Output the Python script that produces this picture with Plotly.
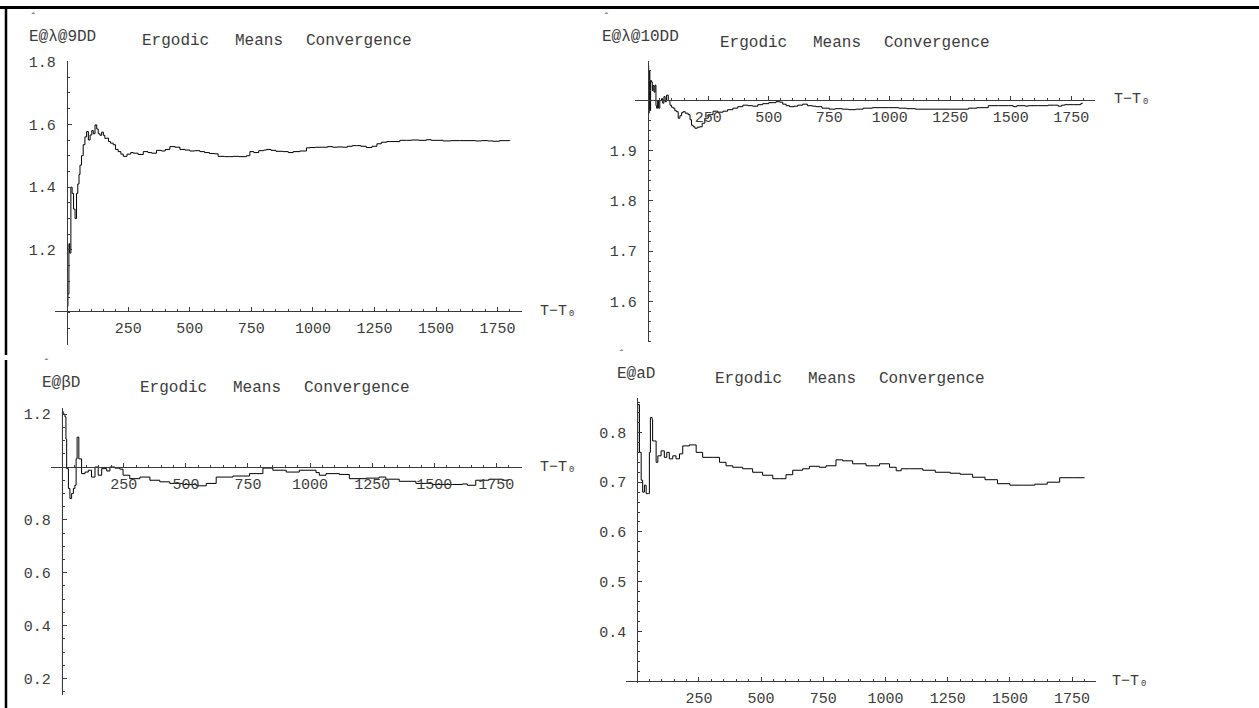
import plotly.graph_objects as go
import numpy as np

W, H = 1259, 708

# ---------------- data ----------------
lam9_t = [1, 5, 9, 12, 17, 22, 28, 34, 40, 45, 50, 54, 60, 67, 74, 81, 88, 95, 102, 108,
          115, 122, 128, 135, 142, 149, 155, 162, 170, 178, 189, 198, 209, 220, 230, 245,
          260, 270, 290, 311, 330, 345, 365, 385, 400, 419, 440, 460, 480, 500, 520, 541,
          560, 580, 600, 615, 640, 660, 676, 700, 730, 744, 760, 780, 800, 812, 830, 850,
          879, 900, 920, 947, 974, 988, 1010, 1040, 1060, 1080, 1100, 1120, 1140, 1160,
          1177, 1195, 1217, 1240, 1260, 1278, 1300, 1353, 1380, 1400, 1430, 1461, 1480,
          1500, 1528, 1560, 1596, 1630, 1660, 1684, 1710, 1731, 1758, 1780, 1800]
lam9_v = [1.02, 1.06, 1.22, 1.19, 1.40, 1.38, 1.33, 1.30, 1.38, 1.41, 1.44, 1.47, 1.50,
          1.535, 1.56, 1.577, 1.55, 1.566, 1.58, 1.57, 1.598, 1.585, 1.57, 1.565, 1.575,
          1.565, 1.555, 1.556, 1.545, 1.54, 1.535, 1.52, 1.513, 1.505, 1.498, 1.505, 1.51,
          1.508, 1.504, 1.513, 1.51, 1.508, 1.517, 1.515, 1.52, 1.529, 1.527, 1.52, 1.518,
          1.515, 1.516, 1.513, 1.51, 1.507, 1.506, 1.498, 1.497, 1.497, 1.498, 1.497, 1.50,
          1.513, 1.51, 1.516, 1.518, 1.52, 1.517, 1.514, 1.513, 1.51, 1.513, 1.515, 1.525,
          1.526, 1.527, 1.527, 1.529, 1.527, 1.528, 1.527, 1.530, 1.532, 1.532, 1.530,
          1.526, 1.530, 1.538, 1.543, 1.545, 1.549, 1.549, 1.550, 1.549, 1.551, 1.549,
          1.549, 1.547, 1.548, 1.548, 1.548, 1.547, 1.548, 1.547, 1.546, 1.548, 1.548,
          1.549]

lam10_t = [2, 4, 6, 9, 12, 16, 19, 22, 26, 30, 34, 37, 41, 45, 50, 57, 62, 67, 72, 78, 85,
           92, 98, 105, 112, 119, 126, 133, 140, 146, 155, 167, 175, 181, 188, 195, 205, 215,
           225, 236, 250, 270, 290, 311, 330, 352, 372, 393, 414, 434, 455, 475, 500, 530,
           545, 558, 572, 586, 605, 620, 640, 660, 680, 695, 720, 750, 775, 804, 830, 859,
           890, 928, 960, 996, 1037, 1070, 1106, 1150, 1200, 1250, 1311, 1325, 1360, 1407,
           1450, 1490, 1510, 1525, 1560, 1572, 1610, 1654, 1680, 1696, 1710, 1723, 1760,
           1789, 1795]
lam10_v = [2.07, 1.975, 2.06, 1.98, 2.04, 2.037, 2.02, 2.03, 2.017, 2.031, 1.99, 1.985, 2.0,
           1.985, 2.0, 2.004, 1.995, 2.008, 1.998, 2.011, 2.0, 1.991, 1.987, 1.985, 1.98,
           1.978, 1.965, 1.97, 1.976, 1.978, 1.975, 1.972, 1.962, 1.951, 1.948, 1.945,
           1.947, 1.948, 1.955, 1.965, 1.972, 1.979, 1.977, 1.979, 1.982, 1.985, 1.988,
           1.991, 1.990, 1.989, 1.992, 1.994, 1.996, 1.998, 1.997, 1.993, 1.990, 1.988,
           1.989, 1.991, 1.993, 1.990, 1.989, 1.988, 1.985, 1.983, 1.984, 1.983, 1.982,
           1.983, 1.985, 1.986, 1.986, 1.986, 1.985, 1.984, 1.983, 1.983, 1.983, 1.983,
           1.983, 1.985, 1.986, 1.990, 1.990, 1.990, 1.988, 1.990, 1.989, 1.990, 1.990,
           1.991, 1.991, 1.989, 1.991, 1.992, 1.992, 1.994, 1.996]

beta_t = [1, 3, 6, 13, 17, 20, 27, 33, 40, 47, 53, 58, 62, 69, 80, 94, 107, 120, 134, 147,
          161, 181, 194, 214, 234, 247, 274, 315, 355, 395, 435, 488, 542, 582, 622, 689,
          756, 810, 850, 904, 957, 1024, 1037, 1064, 1118, 1158, 1225, 1278, 1305, 1359,
          1426, 1492, 1573, 1613, 1633, 1667, 1720, 1774, 1798]
beta_v = [0.14, 1.21, 1.20, 1.19, 1.106, 0.994, 0.919, 0.881, 0.90, 0.919, 0.931, 1.031,
          1.113, 1.031, 0.975, 0.981, 0.988, 0.962, 1.0, 0.969, 0.994, 0.985, 1.0, 0.996,
          0.992, 0.969, 0.956, 0.962, 0.95, 0.944, 0.938, 0.934, 0.929, 0.938, 0.962,
          0.966, 0.975, 0.996, 0.988, 0.981, 0.988, 0.979, 0.969, 0.975, 0.972, 0.956,
          0.958, 0.962, 0.954, 0.946, 0.938, 0.934, 0.934, 0.936, 0.931, 0.950, 0.954,
          0.950, 0.954]

a_t = [1, 4, 11, 18, 24, 31, 38, 47, 51, 55, 62, 64, 71, 78, 85, 98, 111, 121, 131, 145,
       158, 172, 185, 212, 232, 239, 265, 306, 333, 359, 386, 426, 466, 506, 547, 574, 600,
       627, 667, 694, 734, 761, 801, 828, 868, 922, 976, 1016, 1043, 1063, 1096, 1150,
       1200, 1260, 1300, 1350, 1400, 1450, 1500, 1550, 1600, 1650, 1700, 1750, 1800]
a_v = [0.76, 0.856, 0.76, 0.704, 0.680, 0.694, 0.677, 0.677, 0.76, 0.830, 0.826, 0.783,
       0.783, 0.740, 0.753, 0.763, 0.750, 0.760, 0.747, 0.753, 0.747, 0.757, 0.773, 0.775,
       0.775, 0.760, 0.750, 0.750, 0.740, 0.733, 0.730, 0.727, 0.720, 0.714, 0.707, 0.707,
       0.715, 0.724, 0.727, 0.732, 0.730, 0.733, 0.745, 0.743, 0.737, 0.733, 0.737, 0.730,
       0.723, 0.727, 0.727, 0.724, 0.720, 0.718, 0.716, 0.710, 0.705, 0.697, 0.694,
       0.694, 0.696, 0.700, 0.709, 0.709, 0.709]

x_tick_vals = [250, 500, 750, 1000, 1250, 1500, 1750]
x_tick_text = ["250", "500", "750", "1000", "1250", "1500", "1750"]

labels = ["E@\u03bb@9DD", "E@\u03bb@10DD", "E@\u03b2D", "E@aD"]
title_words = ["Ergodic", "Means", "Convergence"]
x_label = "T\u2212T\u2080"

# ---------------- layout of the four panels (pixels) ----------------
panels = [
    dict(t=lam9_t, v=lam9_v, xpx=(55, 521.7), xr=(-47.5, 1848), ypx=(55, 341.7),
         yr=(0.898, 1.803), xaxis_at=308, yaxis_at=66.7,
         ytv=[1.2, 1.4, 1.6, 1.8], ytt=["1.2", "1.4", "1.6", "1.8"], ymin=0.05,
         lab=(27, 30), tit=(140, 35), tl=(538, 308)),
    dict(t=lam10_t, v=lam10_v, xpx=(635, 1095), xr=(-52.5, 1848), ypx=(55, 339.3),
         yr=(1.518, 2.080), xaxis_at=94.5, yaxis_at=647.7,
         ytv=[1.6, 1.7, 1.8, 1.9], ytt=["1.6", "1.7", "1.8", "1.9"], ymin=0.02,
         lab=(600, 30), tit=(718, 37), tl=(1112, 94)),
    dict(t=beta_t, v=beta_v, xpx=(50.7, 521.7), xr=(-44.3, 1852), ypx=(405, 695),
         yr=(0.137, 1.225), xaxis_at=464.5, yaxis_at=61.7,
         ytv=[0.2, 0.4, 0.6, 0.8, 1.2], ytt=["0.2", "0.4", "0.6", "0.8", "1.2"], ymin=0.05,
         lab=(40, 379), tit=(138, 385), tl=(538, 465)),
    dict(t=a_t, v=a_v, xpx=(626, 1096), xr=(-43, 1846), ypx=(395, 682.7),
         yr=(0.2964, 0.870), xaxis_at=680.5, yaxis_at=637.3,
         ytv=[0.4, 0.5, 0.6, 0.7, 0.8], ytt=["0.4", "0.5", "0.6", "0.7", "0.8"], ymin=0.02,
         lab=(615, 370), tit=(712.7, 376), tl=(1110, 681)),
]

MONO = "Liberation Mono"
AX = "#3a3a3a"
TXT = "#3c3c3c"

fig = go.Figure()
layout = dict(width=W, height=H, margin=dict(l=0, r=0, t=0, b=0),
              paper_bgcolor="white", plot_bgcolor="rgba(0,0,0,0)", showlegend=False)
annotations = []
shapes = []

for i, p in enumerate(panels):
    n = "" if i == 0 else str(i + 1)
    fig.add_trace(go.Scatter(x=p["t"], y=p["v"], mode="lines", line_shape="hv",
                             line=dict(color="black", width=1),
                             xaxis="x" + n, yaxis="y" + n, hoverinfo="skip"))
    xminor = [v for v in np.arange(-50, 1851, 50) if v % 250 != 0]
    y0, y1 = p["yr"]
    ymin_vals = [round(v, 4) for v in np.arange(np.floor(y0 * 10) / 10, y1 + 1e-9, p["ymin"])]
    layout["xaxis" + n] = dict(
        domain=[p["xpx"][0] / W, p["xpx"][1] / W], range=list(p["xr"]),
        anchor="free", position=1 - p["xaxis_at"] / H, side="bottom",
        showline=True, linecolor=AX, linewidth=1, showgrid=False, zeroline=False,
        tickmode="array", tickvals=x_tick_vals, ticktext=x_tick_text,
        ticks="inside", ticklen=4, tickwidth=1, tickcolor=AX,
        minor=dict(tickmode="array", tickvals=xminor, ticks="inside", ticklen=2,
                   tickwidth=1, tickcolor=AX, showgrid=False),
        tickfont=dict(family=MONO, size=15, color=TXT), ticklabelstandoff=3,
        fixedrange=True)
    layout["yaxis" + n] = dict(
        domain=[1 - p["ypx"][1] / H, 1 - p["ypx"][0] / H], range=list(p["yr"]),
        anchor="free", position=p["yaxis_at"] / W, side="left",
        showline=True, linecolor=AX, linewidth=1, showgrid=False, zeroline=False,
        tickmode="array", tickvals=p["ytv"], ticktext=p["ytt"],
        ticks="inside", ticklen=4, tickwidth=1, tickcolor=AX,
        minor=dict(tickmode="array", tickvals=ymin_vals, ticks="inside", ticklen=2,
                   tickwidth=1, tickcolor=AX, showgrid=False),
        tickfont=dict(family=MONO, size=15, color=TXT), ticklabelstandoff=8,
        fixedrange=True)

    # y label with hat above the E
    lx, ly = p["lab"]
    annotations.append(dict(x=(lx + 1) / W, y=1 - (ly - 10) / H, xref="paper", yref="paper",
                            text="\u02c6", showarrow=False, xanchor="left", yanchor="bottom",
                            font=dict(family=MONO, size=11, color=TXT)))
    annotations.append(dict(x=lx / W, y=1 - (ly - 9.5) / H, xref="paper", yref="paper",
                            text=labels[i], showarrow=False, xanchor="left", yanchor="top",
                            font=dict(family=MONO, size=16, color=TXT)))
    # title words
    tx, ty = p["tit"]
    for w, off in zip(title_words, [0, 93, 164]):
        annotations.append(dict(x=(tx + off) / W, y=1 - ty / H, xref="paper", yref="paper",
                                text=w, showarrow=False, xanchor="left", yanchor="middle",
                                font=dict(family=MONO, size=16, color=TXT)))
    # x-axis label
    ax_, ay_ = p["tl"]
    annotations.append(dict(x=ax_ / W, y=1 - ay_ / H, xref="paper", yref="paper",
                            text=x_label, showarrow=False, xanchor="left", yanchor="middle",
                            font=dict(family=MONO, size=15, color=TXT)))

# frame lines (top and left)
shapes.append(dict(type="line", xref="paper", yref="paper", x0=0, x1=1,
                   y0=1 - 1.5 / H, y1=1 - 1.5 / H, line=dict(color="black", width=3)))
shapes.append(dict(type="line", xref="paper", yref="paper", x0=6 / W, x1=6 / W,
                   y0=1, y1=1 - 352 / H, line=dict(color="black", width=2.5)))
shapes.append(dict(type="line", xref="paper", yref="paper", x0=6 / W, x1=6 / W,
                   y0=1 - 357 / H, y1=0, line=dict(color="black", width=2.5)))

layout["annotations"] = annotations
layout["shapes"] = shapes
fig.update_layout(**layout)
fig.write_html("out.html")
